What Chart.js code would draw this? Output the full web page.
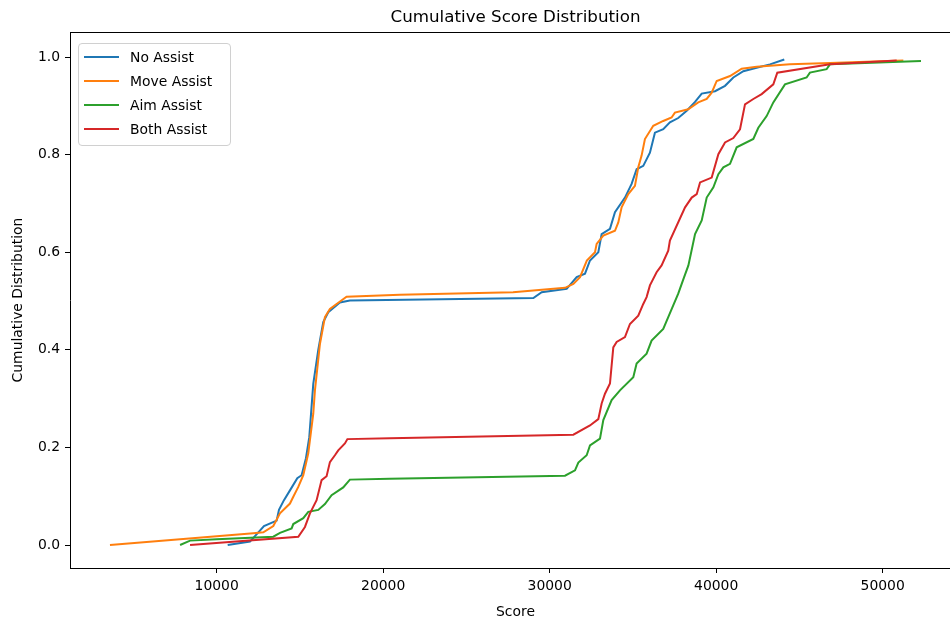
<!DOCTYPE html>
<html>
<head>
<meta charset="utf-8">
<title>Cumulative Score Distribution</title>
<script src="https://cdn.jsdelivr.net/npm/chart.js"></script>
<style>
    html, body { margin: 0; padding: 0; background: #fff; overflow: hidden; }
    #wrap { position: relative; width: 950px; height: 621px; overflow: hidden; }
    #grafico { position: absolute; left: 0; top: 0; }
    #legenda {
        position: absolute; left: 78px; top: 43px; width: 151px; height: 101px;
        border: 1px solid #d0d0d0; border-radius: 4px; background: rgba(255,255,255,0.8);
        font-family: "DejaVu Sans", sans-serif; font-size: 13.9px; color: #000;
    }
    #legenda .linha { position: absolute; left: 0; height: 20px; line-height: 20px; }
    #legenda .traco { position: absolute; left: 5px; top: 9px; width: 35px; height: 2px; }
    #legenda .texto { position: absolute; left: 51px; top: 0; white-space: nowrap; }
</style>
</head>
<body>
<div id="wrap">
    <canvas id="grafico" width="970" height="621"></canvas>
    <div id="legenda"></div>
</div>
<script>
// Dados (score, distribuição cumulativa)
const seriesNames = ['No Assist', 'Move Assist', 'Aim Assist', 'Both Assist'];
const seriesColors = ['#1f77b4', '#ff7f0e', '#2ca02c', '#d62728'];

const noAssistScore = [10660, 12000, 12840, 13600, 13740, 14040, 14400, 14840, 15100, 15360, 15560, 15800, 16100, 16400, 16700, 17400, 18000, 29020, 29520, 31020, 31620, 32120, 32420, 32920, 33120, 33620, 33920, 34520, 34920, 35220, 35620, 36020, 36320, 36820, 37220, 37720, 38230, 38730, 39130, 39930, 40530, 41030, 41630, 42430, 43230, 44090];
const noAssistCum = [0.000, 0.007, 0.039, 0.050, 0.072, 0.092, 0.112, 0.137, 0.143, 0.178, 0.221, 0.330, 0.400, 0.457, 0.477, 0.497, 0.501, 0.506, 0.518, 0.525, 0.549, 0.556, 0.583, 0.600, 0.637, 0.648, 0.682, 0.712, 0.740, 0.770, 0.777, 0.804, 0.845, 0.852, 0.866, 0.875, 0.890, 0.908, 0.925, 0.930, 0.941, 0.958, 0.971, 0.978, 0.985, 0.995];

const moveAssistScore = [3590, 10000, 12200, 12800, 13400, 13800, 14400, 14600, 14900, 15200, 15500, 15800, 15900, 16200, 16500, 16800, 17200, 17800, 21000, 27800, 30920, 31420, 31820, 32230, 32720, 32820, 33220, 33920, 34120, 34320, 34720, 35120, 35320, 35520, 35720, 36220, 36820, 37320, 37520, 38320, 38920, 39430, 39730, 40030, 40830, 41530, 42430, 44430, 46830, 51240];
const moveAssistCum = [0.000, 0.018, 0.024, 0.026, 0.039, 0.065, 0.085, 0.099, 0.119, 0.143, 0.188, 0.269, 0.317, 0.412, 0.467, 0.484, 0.494, 0.509, 0.513, 0.518, 0.527, 0.535, 0.549, 0.583, 0.600, 0.617, 0.634, 0.644, 0.661, 0.692, 0.719, 0.736, 0.774, 0.798, 0.832, 0.859, 0.869, 0.876, 0.886, 0.893, 0.907, 0.914, 0.927, 0.951, 0.961, 0.976, 0.980, 0.985, 0.988, 0.993];

const aimAssistScore = [7800, 8400, 10000, 13400, 13800, 14500, 14600, 15200, 15500, 16100, 16500, 16900, 17600, 18000, 20400, 30920, 31520, 31720, 32220, 32420, 33020, 33220, 33720, 34220, 35020, 35220, 35820, 36120, 36820, 37120, 37420, 37720, 38030, 38330, 38730, 39130, 39430, 39830, 40130, 40430, 40830, 41230, 42230, 42530, 43030, 43430, 44130, 45430, 45630, 46630, 46830, 52300];
const aimAssistCum = [0.000, 0.009, 0.012, 0.017, 0.025, 0.034, 0.043, 0.055, 0.068, 0.072, 0.084, 0.102, 0.118, 0.134, 0.136, 0.142, 0.153, 0.169, 0.184, 0.204, 0.218, 0.256, 0.297, 0.317, 0.344, 0.372, 0.392, 0.419, 0.443, 0.467, 0.491, 0.515, 0.545, 0.573, 0.637, 0.665, 0.712, 0.733, 0.760, 0.774, 0.781, 0.815, 0.832, 0.855, 0.879, 0.907, 0.944, 0.958, 0.968, 0.975, 0.985, 0.992];

const bothAssistScore = [8400, 14900, 15300, 15600, 16000, 16300, 16600, 16800, 17100, 17300, 17700, 17850, 20400, 31420, 32420, 32920, 33120, 33320, 33620, 33820, 34020, 34520, 34820, 35320, 35620, 35820, 36020, 36420, 36720, 37120, 37220, 38130, 38530, 38830, 39030, 39730, 40130, 40530, 41030, 41430, 41730, 42230, 42730, 43430, 43670, 46830, 50840];
const bothAssistCum = [0.000, 0.017, 0.037, 0.065, 0.092, 0.133, 0.141, 0.170, 0.184, 0.194, 0.208, 0.217, 0.219, 0.226, 0.245, 0.258, 0.290, 0.310, 0.331, 0.405, 0.416, 0.426, 0.453, 0.470, 0.494, 0.508, 0.532, 0.559, 0.573, 0.603, 0.624, 0.692, 0.712, 0.719, 0.743, 0.753, 0.801, 0.825, 0.834, 0.852, 0.903, 0.914, 0.924, 0.944, 0.968, 0.985, 0.993];

const xTicks = [10000, 20000, 30000, 40000, 50000];
const yTicks = [0.0, 0.2, 0.4, 0.6, 0.8, 1.0];

const fonte = "'DejaVu Sans', sans-serif";

function juntarPontos(scores, cums) {
    return scores.map((s, i) => ({ x: s, y: cums[i] }));
}

document.addEventListener("DOMContentLoaded", function () {
    const todosScores = [noAssistScore, moveAssistScore, aimAssistScore, bothAssistScore];
    const todosCums = [noAssistCum, moveAssistCum, aimAssistCum, bothAssistCum];

    // matplotlib desenha a última série por cima
    const datasets = seriesNames.map((nome, i) => ({
        label: nome,
        data: juntarPontos(todosScores[i], todosCums[i]),
        borderColor: seriesColors[i],
        backgroundColor: seriesColors[i],
        borderWidth: 2,
        pointRadius: 0,
        tension: 0,
        fill: false,
        order: seriesNames.length - i
    }));

    new Chart(document.getElementById('grafico'), {
        type: 'line',
        data: { datasets: datasets },
        options: {
            responsive: false,
            animation: false,
            layout: { padding: { left: 0, right: 9, top: 0, bottom: 0 } },
            plugins: {
                legend: { display: false },
                tooltip: { enabled: false },
                title: {
                    display: true,
                    text: 'Cumulative Score Distribution',
                    fullSize: false,
                    color: '#000',
                    font: { family: fonte, size: 16.7, weight: 'normal', lineHeight: 1.2 },
                    padding: { top: 8, bottom: 4 }
                }
            },
            scales: {
                x: {
                    type: 'linear',
                    position: 'bottom',
                    min: 1189,
                    max: 54703,
                    afterFit: s => { s.height = 53; },
                    afterBuildTicks: s => { s.ticks = xTicks.map(v => ({ value: v })); },
                    grid: { drawOnChartArea: false, tickLength: 5, color: '#000' },
                    border: { display: true, color: '#000', width: 1 },
                    ticks: {
                        color: '#000', padding: 5, maxRotation: 0,
                        font: { family: fonte, size: 13.9 },
                        callback: v => String(v)
                    },
                    title: {
                        display: true, text: 'Score', color: '#000',
                        font: { family: fonte, size: 13.9, lineHeight: 1.2 },
                        padding: { top: 0, bottom: 0 }
                    }
                },
                xTopo: {
                    type: 'linear',
                    position: 'top',
                    min: 1189,
                    max: 54703,
                    afterFit: s => { s.height = 0; },
                    grid: { drawOnChartArea: false, drawTicks: false },
                    border: { display: true, color: '#000', width: 1 },
                    ticks: { display: false }
                },
                y: {
                    type: 'linear',
                    min: -0.0471,
                    max: 1.0512,
                    afterFit: s => { s.width = 70; },
                    afterBuildTicks: s => { s.ticks = yTicks.map(v => ({ value: v })); },
                    grid: { drawOnChartArea: false, tickLength: 5, color: '#000' },
                    border: { display: true, color: '#000', width: 1 },
                    ticks: {
                        color: '#000', padding: 5,
                        font: { family: fonte, size: 13.9 },
                        callback: v => Number(v).toFixed(1)
                    },
                    title: {
                        display: true, text: 'Cumulative Distribution', color: '#000',
                        font: { family: fonte, size: 13.9, lineHeight: 1.2 },
                        padding: { top: 10, bottom: 0 }
                    }
                }
            }
        }
    });

    // Legenda no canto superior esquerdo, como no matplotlib
    const legenda = document.getElementById('legenda');
    seriesNames.forEach((nome, i) => {
        const linha = document.createElement('div');
        linha.className = 'linha';
        linha.style.top = (3 + i * 24) + 'px';
        linha.innerHTML = '<span class="traco" style="background:' + seriesColors[i] + '"></span>' +
            '<span class="texto">' + nome + '</span>';
        legenda.appendChild(linha);
    });
});
</script>
</body>
</html>
